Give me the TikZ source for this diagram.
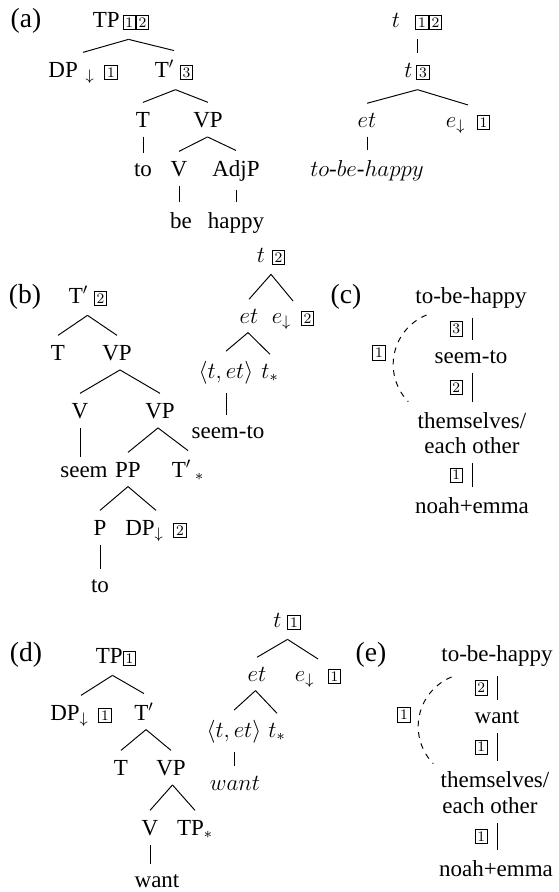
\documentclass[tikz,border=0pt]{standalone}
\usepackage[no-math]{fontspec}
\setmainfont{Liberation Serif}
\usetikzlibrary{calc}
\newcommand{\bxn}[1]{{\setlength{\fboxsep}{1pt}\setlength{\fboxrule}{0.45pt}\fbox{\fontfamily{lmr}\fontsize{7.6}{8}\selectfont #1}}}
\newcommand{\brn}[3]{%
  \coordinate (m-#1) at ($(#2.north)!.5!(#3.north)$);
  \draw[edge] (m-#1 |- #1.south) -- (#2.north);
  \draw[edge] (m-#1 |- #1.south) -- (#3.north);}
\newcommand{\unr}[2]{\draw[edge] (#1.south) -- (#1.south |- #2.north);}
\begin{document}
\begin{tikzpicture}[x=0.5217pt,y=-0.5217pt,
  every node/.style={font=\fontsize{12}{14.4}\selectfont, inner sep=0pt, outer xsep=0pt, outer ysep=5pt, anchor=base},
  lab/.style={font=\fontsize{14.4}{17}\selectfont},
  edge/.style={line width=0.5pt},
  boxlab/.style={left=4.7pt}]
\useasboundingbox (0,0) rectangle (559,892);

% ---------- (a) ----------
\node[lab] (la) at (26,27) {(a)};
\node (TPa) at (121,27) {TP\kern1.5pt\bxn{1}\bxn{2}};
\node (DPa) at (83,77) {DP\kern4pt$_{\downarrow}$\kern5pt\bxn{1}};
\node (Tba) at (174,77) {T$'$\kern3pt\bxn{3}};
\node (Ta) at (143,127) {T};
\node (VPa) at (208,127) {VP};
\node (toa) at (143,176) {to};
\node (Va) at (179,176) {V};
\node (AdjPa) at (236,176) {AdjP};
\node (bea) at (181,228) {be};
\node (happya) at (236,228) {happy};
\brn{TPa}{DPa}{Tba}
\brn{Tba}{Ta}{VPa}
\unr{Ta}{toa}
\brn{VPa}{Va}{AdjPa}
\unr{Va}{bea}
\unr{AdjPa}{happya}

\node (ta12) at (417,27) {$t$\kern8pt\bxn{1}\bxn{2}};
\node (ta3) at (417,77) {$t$\kern2pt\bxn{3}};
\node (eta) at (367,127) {$et$};
\node (ea1) at (468,127) {$e_{\downarrow}$\kern6pt\bxn{1}};
\node (tbha) at (367,176) {$to$-$be$-$happy$};
\unr{ta12}{ta3}
\brn{ta3}{eta}{ea1}
\unr{eta}{tbha}

% ---------- (b) ----------
\node[lab] (lb) at (25,303) {(b)};
\node (Tbb) at (88,303) {T$'$\kern3pt\bxn{2}};
\node (Tb) at (58,360) {T};
\node (VPb) at (117,360) {VP};
\node (Vb) at (80,418) {V};
\node (VPbb) at (160,418) {VP};
\node (seemb) at (84,477) {seem};
\node (PPb) at (128,477) {PP};
\node (Tsb) at (188,477) {T$'\,{}_{*}$};
\node (Pb) at (100,535) {P};
\node (DPb) at (156,535) {DP$_{\downarrow}$\kern5pt\bxn{2}};
\node (tob) at (100,592) {to};
\brn{Tbb}{Tb}{VPb}
\brn{VPb}{Vb}{VPbb}
\unr{Vb}{seemb}
\brn{VPbb}{PPb}{Tsb}
\brn{PPb}{Pb}{DPb}
\unr{Pb}{tob}

\node (tb2) at (271,262) {$t$\kern3.5pt\bxn{2}};
\node (etb) at (249,323) {$et$};
\node (eb2) at (293,323) {$e_{\downarrow}$\kern5pt\bxn{2}};
\node (tetb) at (226,378) {$\langle t, et\rangle$};
\node (tsb) at (270,378) {$t_{*}$};
\node (seemtob) at (228,438) {seem-to};
\brn{tb2}{etb}{eb2}
\brn{etb}{tetb}{tsb}
\unr{tetb}{seemtob}

% ---------- (c) ----------
\node[lab] (lc) at (346,303) {(c)};
\node (tbhc) at (471,303) {to-be-happy};
\node (seemc) at (471,363) {seem-to};
\node (themc) at (472,428) {themselves/};
\node (eachc) at (472,453) {each other};
\node (noahc) at (472,513) {noah+emma};
\node[anchor=center] (bxc) at (379,353) {\bxn{1}};
\coordinate (colc) at (472,0);
\draw[edge] (colc |- tbhc.south) -- node[boxlab]{\bxn{3}} (colc |- seemc.north);
\draw[edge] (colc |- seemc.south) -- node[boxlab]{\bxn{2}} (colc |- themc.north);
\draw[edge] (colc |- eachc.south) -- node[boxlab]{\bxn{1}} (colc |- noahc.north);
\coordinate (arcc) at (446.6,364.5);
\draw[edge,dashed] (arcc) ++(248:53.4) arc[start angle=248, end angle=136, radius=53.4];

% ---------- (d) ----------
\node[lab] (ld) at (26,661) {(d)};
\node (TPd) at (116,663) {TP\bxn{1}};
\node (DPd) at (81,720) {DP$_{\downarrow}$\kern5pt\bxn{1}};
\node (Tbd) at (144,720) {T$'$};
\node (Td) at (121,775) {T};
\node (VPd) at (171,775) {VP};
\node (Vd) at (150,835) {V};
\node (TPsd) at (195,835) {TP$_{*}$};
\node (wantd) at (157,887) {want};
\brn{TPd}{DPd}{Tbd}
\brn{Tbd}{Td}{VPd}
\brn{VPd}{Vd}{TPsd}
\unr{Vd}{wantd}

\node (td1) at (287,627) {$t$\kern3pt\bxn{1}};
\node (etd) at (257,681) {$et$};
\node (ed1) at (318,681) {$e_{\downarrow}$\kern7pt\bxn{1}};
\node (tetd) at (234,737) {$\langle t, et\rangle$};
\node (tsd) at (277,737) {$t_{*}$};
\node (wantds) at (235,790) {$want$};
\brn{td1}{etd}{ed1}
\brn{etd}{tetd}{tsd}
\unr{tetd}{wantds}

% ---------- (e) ----------
\node[lab] (le) at (371,661) {(e)};
\node (tbhe) at (497,661) {to-be-happy};
\node (wante) at (497,723) {want};
\node (theme) at (495,787) {themselves/};
\node (eache) at (490,813) {each other};
\node (noahe) at (496,876) {noah+emma};
\node[anchor=center] (bxe) at (404,715) {\bxn{1}};
\coordinate (cole) at (497,0);
\draw[edge] (cole |- tbhe.south) -- node[boxlab]{\bxn{2}} (cole |- wante.north);
\draw[edge] (cole |- wante.south) -- node[boxlab]{\bxn{1}} (cole |- theme.north);
\draw[edge] (cole |- eache.south) -- node[boxlab]{\bxn{1}} (cole |- noahe.north);
\coordinate (arce) at (471.6,726.5);
\draw[edge,dashed] (arce) ++(248:53.4) arc[start angle=248, end angle=136, radius=53.4];
\end{tikzpicture}
\end{document}
